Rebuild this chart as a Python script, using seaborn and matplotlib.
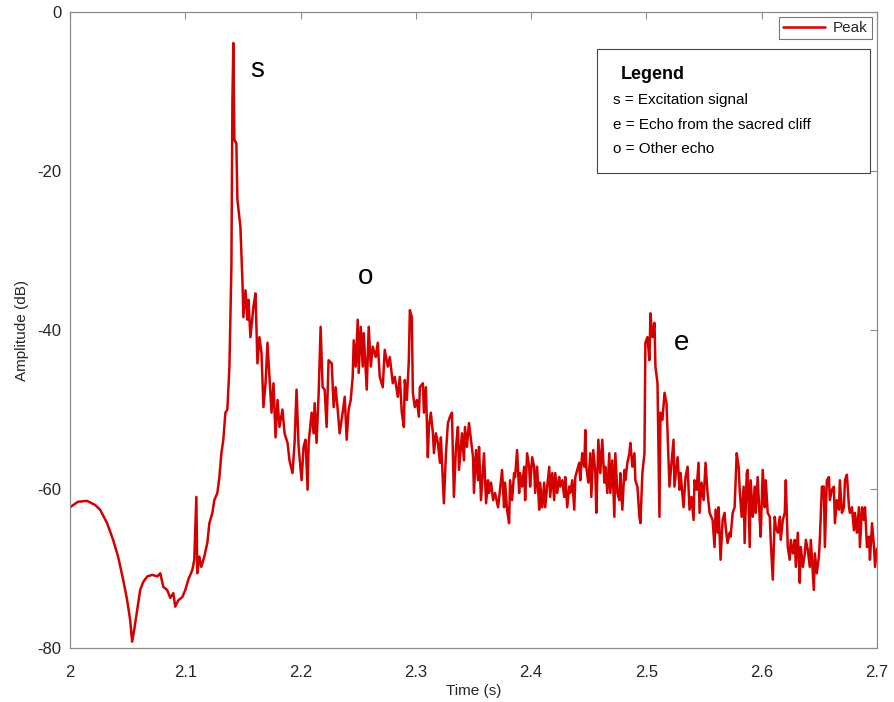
import numpy as np
import pandas as pd
import matplotlib
matplotlib.use("Agg")
import matplotlib.pyplot as plt
import seaborn as sns
from matplotlib.patches import Rectangle

# ---- data ----
time_s = [
    2.0000, 2.0070, 2.0148, 2.0217, 2.0261, 2.0322, 2.0374, 2.0417, 2.0461, 2.0496,
    2.0522, 2.0539, 2.0557, 2.0583, 2.0609, 2.0635, 2.0670, 2.0713, 2.0757, 2.0783,
    2.0809, 2.0843, 2.0870, 2.0896, 2.0913, 2.0939, 2.0974, 2.1000, 2.1026, 2.1061,
    2.1078, 2.1096, 2.1104, 2.1122, 2.1139, 2.1165, 2.1191, 2.1209, 2.1235, 2.1252,
    2.1278, 2.1296, 2.1313, 2.1330, 2.1348, 2.1365, 2.1383, 2.1400, 2.1409, 2.1417,
    2.1426, 2.1443, 2.1452, 2.1478, 2.1496, 2.1504, 2.1522, 2.1539, 2.1548, 2.1565,
    2.1591, 2.1609, 2.1626, 2.1643, 2.1661, 2.1678, 2.1696, 2.1713, 2.1730, 2.1748,
    2.1765, 2.1783, 2.1800, 2.1817, 2.1843, 2.1861, 2.1887, 2.1904, 2.1930, 2.1948,
    2.1965, 2.1983, 2.2009, 2.2026, 2.2043, 2.2061, 2.2070, 2.2096, 2.2113, 2.2122,
    2.2139, 2.2157, 2.2174, 2.2191, 2.2209, 2.2226, 2.2243, 2.2270, 2.2287, 2.2304,
    2.2322, 2.2339, 2.2365, 2.2383, 2.2400, 2.2417, 2.2435, 2.2452, 2.2461, 2.2478,
    2.2496, 2.2504, 2.2522, 2.2539, 2.2548, 2.2574, 2.2591, 2.2609, 2.2626, 2.2652,
    2.2670, 2.2687, 2.2713, 2.2730, 2.2757, 2.2774, 2.2800, 2.2817, 2.2843, 2.2861,
    2.2878, 2.2896, 2.2904, 2.2922, 2.2939, 2.2948, 2.2965, 2.2974, 2.2991, 2.3009,
    2.3026, 2.3035, 2.3061, 2.3070, 2.3087, 2.3104, 2.3113, 2.3130, 2.3148, 2.3157,
    2.3174, 2.3191, 2.3209,
    2.3217, 2.3243, 2.3261, 2.3278, 2.3296, 2.3313, 2.3330, 2.3348, 2.3365, 2.3374,
    2.3400, 2.3417, 2.3426, 2.3443, 2.3461, 2.3478, 2.3496, 2.3504, 2.3522, 2.3539,
    2.3548, 2.3565, 2.3583, 2.3591, 2.3609, 2.3626, 2.3635, 2.3652, 2.3670, 2.3687,
    2.3713, 2.3730, 2.3748, 2.3765, 2.3774, 2.3791, 2.3809, 2.3817, 2.3835, 2.3852,
    2.3861, 2.3878, 2.3896, 2.3904, 2.3922, 2.3939, 2.3948, 2.3965, 2.3983, 2.3991,
    2.4009, 2.4026, 2.4035, 2.4052, 2.4070, 2.4078, 2.4096, 2.4113, 2.4122, 2.4139,
    2.4157, 2.4165, 2.4183, 2.4200, 2.4209, 2.4226, 2.4243, 2.4252, 2.4270, 2.4287,
    2.4296, 2.4313, 2.4330, 2.4339, 2.4357, 2.4374, 2.4383, 2.4400, 2.4417, 2.4426,
    2.4443, 2.4461, 2.4470, 2.4478, 2.4496, 2.4513, 2.4522, 2.4539, 2.4557, 2.4565,
    2.4583, 2.4600, 2.4617, 2.4635, 2.4643, 2.4661, 2.4678, 2.4687, 2.4704, 2.4722,
    2.4730, 2.4748, 2.4765, 2.4774, 2.4791, 2.4809, 2.4817, 2.4835, 2.4852, 2.4861,
    2.4878, 2.4896, 2.4904, 2.4922, 2.4939, 2.4948, 2.4965, 2.4983, 2.4991, 2.5009,
    2.5026, 2.5035, 2.5052, 2.5070, 2.5078, 2.5096, 2.5113, 2.5122, 2.5139, 2.5157,
    2.5174,
    2.5200, 2.5235, 2.5243, 2.5270, 2.5287, 2.5296, 2.5322, 2.5339, 2.5357, 2.5374,
    2.5391, 2.5409, 2.5417, 2.5435, 2.5452, 2.5461, 2.5478, 2.5496, 2.5513, 2.5530,
    2.5548, 2.5574, 2.5591, 2.5600, 2.5617, 2.5626, 2.5643, 2.5661, 2.5678, 2.5687,
    2.5704, 2.5722, 2.5730, 2.5748, 2.5765, 2.5783, 2.5800, 2.5809, 2.5826, 2.5843,
    2.5852, 2.5870, 2.5878, 2.5896, 2.5904, 2.5922, 2.5939, 2.5948, 2.5965, 2.5983,
    2.5991, 2.6009, 2.6026, 2.6035, 2.6052, 2.6070, 2.6078, 2.6096, 2.6113, 2.6122,
    2.6139, 2.6157, 2.6165, 2.6183, 2.6200, 2.6209, 2.6226, 2.6243, 2.6252, 2.6270,
    2.6287, 2.6296, 2.6313, 2.6330, 2.6339, 2.6357, 2.6374, 2.6383, 2.6400, 2.6417,
    2.6426, 2.6452, 2.6461, 2.6478, 2.6496, 2.6504, 2.6522, 2.6539, 2.6548, 2.6565,
    2.6583, 2.6591, 2.6609, 2.6626, 2.6635, 2.6652, 2.6670, 2.6678, 2.6696, 2.6713,
    2.6722, 2.6739, 2.6757, 2.6765, 2.6783, 2.6800, 2.6809, 2.6826, 2.6843, 2.6852,
    2.6870, 2.6887, 2.6896, 2.6913, 2.6930, 2.6939, 2.6957, 2.6974, 2.6983, 2.7000,
]

amplitude_db = [
    -62.3, -61.6, -61.5, -62.0, -62.6, -64.3, -66.4, -68.5, -71.4, -74.0,
    -76.5, -79.2, -77.7, -75.2, -72.7, -71.7, -71.0, -70.8, -71.0, -70.6,
    -72.3, -72.7, -73.7, -73.1, -74.8, -74.0, -73.6, -72.7, -71.4, -70.2,
    -68.9, -61.0, -70.6, -68.5, -69.8, -68.5, -66.8, -64.3, -63.0, -61.4,
    -60.5, -58.5, -55.5, -53.8, -50.4, -50.0, -44.6, -32.0, -11.0, -3.9,
    -16.1, -16.5, -23.6, -27.0, -34.0, -38.4, -35.0, -38.7, -36.2, -40.9,
    -37.1, -35.4, -44.2, -40.9, -42.9, -49.7, -46.7, -41.6, -45.9, -50.4,
    -46.7, -53.5, -48.8, -52.2, -50.0, -53.0, -54.2, -56.4, -58.0, -54.2,
    -47.5, -54.7, -58.9, -54.7, -53.8, -60.1, -54.2, -50.4, -53.0, -49.2,
    -54.2, -47.9, -39.6, -47.2, -47.5, -52.2, -43.8, -44.2, -49.7, -47.2,
    -50.0, -53.0, -50.4, -48.4, -53.8, -50.0, -48.8, -45.9, -41.3, -44.6,
    -38.7, -45.4, -39.6, -44.6, -40.4, -47.5, -39.6, -44.6, -42.1, -43.4,
    -41.6, -45.9, -47.2, -42.5, -44.6, -43.4, -46.7, -45.9, -48.4, -45.9,
    -50.4, -52.2, -46.3, -48.8, -43.8, -37.5, -38.4, -47.9, -49.7, -48.8,
    -50.9, -47.2, -46.7, -50.4, -47.2, -56.0, -52.2, -50.4, -53.0, -55.5,
    -53.0, -54.2, -56.7,
    -53.5, -61.8, -55.5, -51.7, -50.9, -50.4, -61.0, -54.7, -52.2, -57.6,
    -53.0, -56.4, -52.2, -54.7, -51.7, -53.8, -56.0, -60.5, -55.1, -58.9,
    -54.7, -61.4, -57.2, -55.5, -61.8, -58.9, -60.5, -59.2, -61.4, -60.5,
    -62.3, -60.1, -57.6, -62.3, -59.2, -62.6, -64.3, -58.9, -61.4, -58.0,
    -58.5, -55.1, -60.5, -58.0, -59.7, -57.2, -61.4, -55.5, -57.2, -59.7,
    -56.0, -57.2, -60.5, -57.2, -62.6, -59.2, -62.3, -59.2, -62.3, -59.7,
    -57.2, -61.0, -58.0, -61.4, -58.0, -60.5, -58.5, -59.7, -58.9, -61.0,
    -58.5, -62.3, -59.7, -60.5, -58.9, -62.6, -58.5, -57.6, -56.7, -58.9,
    -55.5, -57.2, -52.6, -57.2, -59.2, -55.5, -61.0, -55.1, -58.0, -63.0,
    -53.8, -58.0, -53.8, -59.2, -57.2, -60.5, -55.5, -60.5, -56.4, -63.5,
    -55.5, -60.5, -61.4, -58.0, -62.6, -57.6, -58.9, -56.7, -55.5, -54.2,
    -57.2, -55.5, -58.9, -59.7, -63.5, -64.3, -58.0, -55.5, -41.6, -40.9,
    -43.8, -37.9, -40.9, -39.1, -44.6, -46.7, -63.5, -50.4, -51.3, -47.9,
    -49.2,
    -59.7, -53.8, -59.7, -56.0, -60.1, -58.0, -62.3, -58.5, -57.2, -62.6,
    -61.0, -63.9, -58.9, -60.1, -56.7, -63.0, -59.2, -61.4, -56.7, -60.5,
    -63.0, -63.9, -67.3, -62.6, -65.5, -62.3, -68.9, -63.9, -63.0, -64.8,
    -66.8, -65.5, -66.0, -63.0, -62.3, -55.5, -57.2, -60.1, -63.5, -59.7,
    -66.8, -58.0, -57.6, -67.3, -58.9, -63.5, -59.7, -63.0, -58.5, -63.9,
    -66.0, -57.6, -62.3, -58.9, -63.0, -63.5, -66.4, -71.4, -63.5, -64.8,
    -65.5, -63.5, -66.4, -63.9, -63.0, -58.9, -67.3, -68.9, -66.4, -68.1,
    -66.4, -69.8, -65.5, -71.8, -67.3, -69.8, -68.1, -66.4, -67.7, -69.8,
    -66.4, -72.7, -68.1, -70.6, -68.5, -66.4, -59.7, -59.7, -67.3, -58.9,
    -58.5, -61.4, -60.1, -59.7, -64.3, -61.4, -62.6, -58.9, -63.0, -62.3,
    -58.9, -58.2, -62.3, -63.0, -62.3, -65.2, -63.0, -65.5, -62.3, -67.3,
    -62.3, -63.9, -62.3, -67.3, -66.0, -68.9, -64.3, -67.3, -69.8, -67.5,
]

series_label = "Peak"
x_ticks = [2.0, 2.1, 2.2, 2.3, 2.4, 2.5, 2.6, 2.7]
x_tick_labels = ["2", "2.1", "2.2", "2.3", "2.4", "2.5", "2.6", "2.7"]
y_ticks = [-80, -60, -40, -20, 0]
y_tick_labels = ["-80", "-60", "-40", "-20", "0"]
annotations = [("s", 2.1626, -7.3), ("o", 2.2565, -33.3), ("e", 2.5304, -41.6)]
legend_title = "Legend"
legend_lines = ["s = Excitation signal",
                "e = Echo from the sacred cliff",
                "o = Other echo"]

df = pd.DataFrame({"Time": time_s, "Amplitude": amplitude_db, "Series": series_label})

# ---- styling ----
sns.set_style("white")
plt.rcParams["font.family"] = ["Liberation Sans", "DejaVu Sans"]
plt.rcParams["axes.unicode_minus"] = False

AX_GRAY = "#8c8c8c"
TXT = "#262626"
RED = "#d40000"

fig = plt.figure(figsize=(8.94, 7.02), dpi=100)
ax = fig.add_axes([70 / 894, 1 - 648 / 702, 807 / 894, 636 / 702])

sns.lineplot(data=df, x="Time", y="Amplitude", hue="Series",
             palette=[RED], linewidth=1.8, ax=ax, sort=False, estimator=None)

ax.set_xlim(2.0, 2.7)
ax.set_ylim(-80, 0)
ax.set_xticks(x_ticks)
ax.set_xticklabels(x_tick_labels)
ax.set_yticks(y_ticks)
ax.set_yticklabels(y_tick_labels)
ax.tick_params(direction="in", length=5, width=0.8, color=AX_GRAY,
               labelsize=12, labelcolor=TXT, top=True, right=True, pad=6)
ax.tick_params(axis="x", pad=12)
for sp in ax.spines.values():
    sp.set_visible(True)
    sp.set_color(AX_GRAY)
    sp.set_linewidth(0.9)

ax.set_xlabel("Time (s)", fontsize=11, color=TXT, labelpad=3)
ax.set_ylabel("Amplitude (dB)", fontsize=11, color=TXT, labelpad=6)

leg = ax.legend(loc="upper right", frameon=True, fancybox=False,
                edgecolor="#555555", fontsize=11, handlelength=2.8,
                borderaxespad=0.35, borderpad=0.25, handletextpad=0.5)
leg.get_frame().set_linewidth(0.8)
for t in leg.get_texts():
    t.set_color(TXT)

for label, tx, ty in annotations:
    ax.text(tx, ty, label, fontsize=20, color="black", ha="center", va="center")

# text box with legend explanation
ax.add_patch(Rectangle((0.653, 0.7469), 0.9913 - 0.653, 0.9418 - 0.7469,
                       transform=ax.transAxes, facecolor="white",
                       edgecolor="#444444", linewidth=0.8, zorder=4))
ax.text(0.6825, 0.901, legend_title, transform=ax.transAxes, fontsize=13,
        fontweight="bold", color="black", va="center", ha="left", zorder=5)
for i, line in enumerate(legend_lines):
    ax.text(0.673, 0.8616 - i * 0.0385, line, transform=ax.transAxes,
            fontsize=11, color="black", va="center", ha="left", zorder=5)

fig.savefig("out.png", dpi=100, facecolor="white")
